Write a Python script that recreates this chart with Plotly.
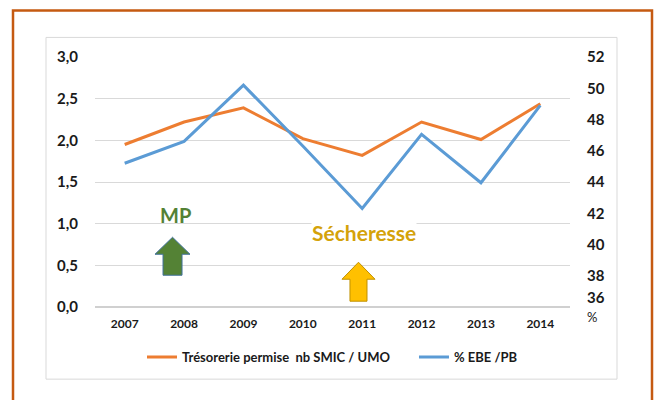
import plotly.graph_objects as go

years = ["2007", "2008", "2009", "2010", "2011", "2012", "2013", "2014"]
tresorerie = [1.95, 2.22, 2.39, 2.02, 1.82, 2.22, 2.01, 2.44]
ebe_pb = [45.2, 46.6, 50.2, 46.3, 42.3, 47.05, 43.95, 48.9]

left_ticks = [0, 0.5, 1.0, 1.5, 2.0, 2.5, 3.0]
right_ticks = [36, 38, 40, 42, 44, 46, 48, 50, 52]
right_ticktext = ["36<br><span style='font-weight:normal;font-size:13px'>%</span>",
                  "38", "40", "42", "44", "46", "48", "50", "52"]

name1 = "Trésorerie permise\u00a0 nb SMIC / UMO" + "\u00a0" * 6
name2 = "% EBE /PB"

W, H = 657, 400
L, R, T, B = 95, 570, 56.6, 306.8


def px(x):
    return (x - L) / (R - L)


def py(y):
    return (B - y) / (B - T)


def arrow_path(cx, top, head_y, bottom, half_head, half_shaft):
    pts = [(cx, top), (cx - half_head, head_y), (cx - half_shaft, head_y),
           (cx - half_shaft, bottom), (cx + half_shaft, bottom),
           (cx + half_shaft, head_y), (cx + half_head, head_y)]
    return "M " + " L ".join(f"{px(a):.4f},{py(b):.4f}" for a, b in pts) + " Z"


fig = go.Figure()
fig.add_trace(go.Scatter(x=years, y=tresorerie, mode="lines", name=name1,
                         line=dict(color="#ED7D31", width=3), yaxis="y"))
fig.add_trace(go.Scatter(x=years, y=ebe_pb, mode="lines", name=name2,
                         line=dict(color="#5B9BD5", width=3), yaxis="y2"))

tickfont = dict(family="Lato", size=15, color="#1a1a1a", weight="bold")

fig.update_layout(
    width=W, height=H,
    margin=dict(l=L, r=W - R, t=T, b=H - B),
    paper_bgcolor="white", plot_bgcolor="white",
    separators=", ",
    showlegend=True,
    legend=dict(orientation="h", x=0.5, xanchor="center", y=py(357), yanchor="middle",
                font=dict(family="Lato", size=13, color="#1a1a1a", weight="bold"),
                itemwidth=30, tracegroupgap=0),
    xaxis=dict(type="category", range=[-0.5, 7.5], showgrid=False, zeroline=False,
               showline=False, ticks="", ticklabelstandoff=8,
               tickfont=dict(family="Lato", size=12, color="#1a1a1a", weight="bold")),
    yaxis=dict(range=[0, 3], tickvals=left_ticks, tickformat=".1f", showgrid=True,
               gridcolor="#D9D9D9", gridwidth=1, zeroline=True, zerolinecolor="#D0D0D0",
               zerolinewidth=2, showline=False, ticks="", ticklabelstandoff=16,
               tickfont=tickfont),
    yaxis2=dict(range=[36, 52], tickvals=right_ticks, ticktext=right_ticktext,
                overlaying="y", side="right",
                showgrid=False, zeroline=False, showline=False, ticks="",
                ticklabelstandoff=16, tickfont=tickfont),
    shapes=[
        dict(type="rect", xref="paper", yref="paper", x0=px(46), x1=px(617),
             y0=py(379), y1=py(37), line=dict(color="#D9D9D9", width=1), layer="below"),
        dict(type="rect", xref="paper", yref="paper", x0=px(13), x1=px(652),
             y0=py(410), y1=py(10), line=dict(color="#C55A11", width=2.5), layer="below"),
        dict(type="path", xref="paper", yref="paper",
             path=arrow_path(172.5, 237, 254, 275, 17.5, 9.5),
             fillcolor="#548235", line=dict(color="#41719C", width=1)),
        dict(type="path", xref="paper", yref="paper",
             path=arrow_path(358.5, 262, 279, 301, 16.5, 8.5),
             fillcolor="#FFC000", line=dict(color="#BF9000", width=1)),
    ],
    annotations=[
        dict(text="MP", xref="paper", yref="paper", x=px(175), y=py(215),
             xanchor="center", yanchor="middle", showarrow=False,
             font=dict(family="Lato", size=20, color="#538135", weight="bold")),
        dict(text="Sécheresse", xref="paper", yref="paper", x=px(364), y=py(232),
             xanchor="center", yanchor="middle", showarrow=False, bgcolor="white", borderpad=0,
             font=dict(family="Lato", size=21, color="#D4A20A", weight="bold")),
    ],
)

fig.write_html("out.html", config={"displayModeBar": False},
               post_script="document.body.style.margin='0';document.body.style.overflow='hidden';")
